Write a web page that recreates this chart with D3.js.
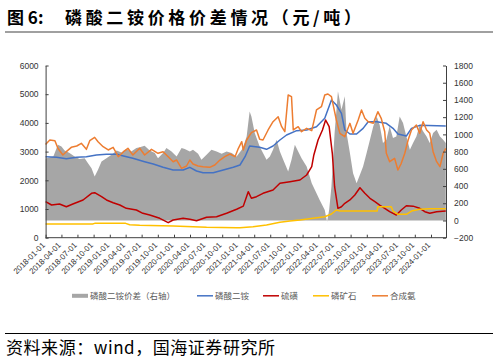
<!DOCTYPE html>
<html><head><meta charset="utf-8">
<script src="https://cdn.jsdelivr.net/npm/d3@7"></script>
<style>body{margin:0;background:#fff}svg{display:block}</style>
</head><body><svg id="c" width="498" height="362"></svg>
<script>
// ---------- data ----------
const titleLead = "图 6:";
const titleMain = "磷酸二铵价格价差情况（元/吨）";
const sourceText = "资料来源：wind，国海证券研究所";
const legendNames = ["磷酸二铵价差（右轴）", "磷酸二铵", "硫磺", "磷矿石", "合成氨"];
const leftTicks = [0, 1000, 2000, 3000, 4000, 5000, 6000];
const rightTicks = [-200, 0, 200, 400, 600, 800, 1000, 1200, 1400, 1600, 1800];
const xTickLabels = ["2018-01-01","2018-04-01","2018-07-01","2018-10-01","2019-01-01","2019-04-01","2019-07-01","2019-10-01",
  "2020-01-01","2020-04-01","2020-07-01","2020-10-01","2021-01-01","2021-04-01","2021-07-01","2021-10-01",
  "2022-01-01","2022-04-01","2022-07-01","2022-10-01","2023-01-01","2023-04-01","2023-07-01","2023-10-01","2024-01-01"];

// DAP price spread (right axis)
const spreadDates = ["2018-01-01","2018-01-07","2018-02-14","2018-03-12","2018-04-01","2018-04-19","2018-05-17","2018-06-15","2018-07-13",
  "2018-08-11","2018-08-30","2018-09-19","2018-10-07","2018-10-26","2018-11-15","2018-12-13","2019-01-11","2019-02-09","2019-03-08",
  "2019-04-05","2019-05-03","2019-06-01","2019-06-20","2019-07-18","2019-08-16","2019-09-14","2019-10-02","2019-10-31","2019-11-19",
  "2019-12-18","2020-01-16","2020-02-13","2020-03-02","2020-03-31","2020-04-18","2020-05-17","2020-06-05","2020-07-04","2020-08-01",
  "2020-08-30","2020-09-28","2020-10-26","2020-11-24","2020-12-22","2021-01-20","2021-01-29","2021-02-17","2021-03-06","2021-03-16",
  "2021-04-04","2021-05-02","2021-05-21","2021-06-10","2021-06-29","2021-07-17","2021-08-06","2021-08-25","2021-09-13","2021-10-11",
  "2021-10-30","2021-11-18","2021-12-07","2021-12-26","2022-01-24","2022-02-22","2022-03-21","2022-04-08","2022-05-07","2022-05-20",
  "2022-06-01","2022-06-14","2022-07-02","2022-07-21","2022-08-10","2022-08-29","2022-09-08","2022-09-27","2022-10-15","2022-11-04",
  "2022-11-23","2022-12-11","2022-12-31","2023-01-19","2023-02-07","2023-02-26","2023-03-15","2023-04-03","2023-04-22","2023-05-11",
  "2023-05-30","2023-06-18","2023-07-07","2023-07-26","2023-08-14","2023-09-03","2023-09-21","2023-10-10","2023-10-29","2023-11-17",
  "2023-12-07","2023-12-25","2024-01-13","2024-02-02","2024-02-21","2024-03-10","2024-03-25"];
const spreadValues = [720,724,743,880,860,813,783,743,713,
  724,666,608,510,588,685,724,763,813,790,
  829,801,841,850,868,813,783,724,783,841,
  801,743,841,829,801,821,774,705,763,821,
  801,774,801,783,743,821,860,976,1267,1209,
  1015,860,783,705,743,821,938,801,705,569,
  705,879,801,724,627,433,317,239,122,-14,
  122,394,1015,1500,1287,1442,1015,783,549,433,
  530,627,783,938,1093,1209,1112,899,938,1093,
  957,976,1209,1132,976,821,899,976,1112,1035,
  976,899,1015,1054,976,938,899];

// DAP price (left axis)
const dapDates = ["2018-01-01","2018-03-04","2018-04-29","2018-06-27","2018-08-21","2018-10-17","2018-12-13","2019-02-09","2019-03-20",
  "2019-05-12","2019-07-18","2019-09-05","2019-10-31","2019-12-27","2020-02-22","2020-03-31","2020-05-08","2020-06-14","2020-08-11",
  "2020-10-07","2020-12-03","2021-01-10","2021-02-08","2021-03-06","2021-05-02","2021-06-10","2021-07-17","2021-08-25","2021-10-02",
  "2021-11-28","2022-01-24","2022-03-21","2022-05-07","2022-06-14","2022-07-12","2022-08-10","2022-08-29","2022-09-27","2022-11-04",
  "2022-12-11","2023-01-09","2023-02-26","2023-04-22","2023-05-30","2023-06-27","2023-08-14","2023-09-12","2023-10-29","2024-03-25"];
const dapValues = [2822,2800,2753,2801,2822,2881,2906,2906,2847,
  2767,2648,2568,2452,2359,2359,2452,2324,2265,2265,
  2359,2452,2533,2822,3195,3149,3079,3195,3404,3578,
  3729,3752,3868,4160,4798,4624,4334,3752,3613,3613,
  3810,4042,4042,3984,3810,3613,3543,3810,3915,3892];

// sulfur (left axis)
const sulfurDates = ["2018-01-01","2018-02-04","2018-03-21","2018-04-29","2018-06-05","2018-08-02","2018-09-19","2018-10-07","2018-11-15",
  "2018-12-13","2019-01-20","2019-02-27","2019-04-05","2019-06-01","2019-07-08","2019-08-16","2019-10-12","2019-11-29","2019-12-27",
  "2020-02-22","2020-03-31","2020-05-08","2020-07-04","2020-08-30","2020-10-26","2020-12-22","2021-01-29","2021-02-26","2021-03-16",
  "2021-04-14","2021-05-21","2021-07-17","2021-08-25","2021-10-21","2021-12-17","2022-01-24","2022-02-22","2022-03-06","2022-03-30",
  "2022-04-24","2022-05-12","2022-06-01","2022-06-19","2022-07-02","2022-07-21","2022-08-10","2022-08-29","2022-09-27","2022-10-25",
  "2022-11-23","2022-12-21","2023-01-19","2023-02-16","2023-03-15","2023-04-13","2023-05-11","2023-06-18","2023-07-16","2023-08-14",
  "2023-09-21","2023-10-29","2023-11-27","2023-12-25","2024-02-02","2024-03-25"];
const sulfurValues = [1254,1139,1174,1080,1174,1314,1547,1568,1429,
  1314,1220,1139,1024,965,850,791,676,523,617,
  676,641,592,711,732,850,990,1100,1603,1373,
  1429,1547,1662,1895,1951,2010,2185,2474,2882,3404,
  3753,4101,3868,2941,1777,1024,1080,1199,1314,1488,
  1742,1547,1373,1254,1139,1024,906,791,965,1115,
  1100,1024,906,850,906,929];

// phosphate rock (left axis)
const rockDates = ["2018-01-01","2018-09-25","2018-10-07","2019-04-01","2019-04-24","2019-06-20","2019-12-27","2020-07-04","2020-12-22",
  "2021-01-10","2021-03-25","2021-06-10","2021-08-25","2021-10-21","2021-12-17","2022-03-01","2022-05-07","2022-06-14","2022-07-12",
  "2022-08-01","2023-03-01","2023-03-05","2023-05-20","2023-05-30","2023-06-27","2023-08-14","2023-09-12","2023-10-29","2023-12-25","2024-03-25"];
const rockValues = [480,480,500,500,450,430,410,362,350,
  350,383,442,536,582,617,675,732,825,965,
  930,930,1080,1080,930,815,815,930,988,1010,1010];

// synthetic ammonia (left axis)
const ammoniaDates = ["2018-01-01","2018-01-07","2018-01-25","2018-02-23","2018-03-12","2018-04-09","2018-04-29","2018-05-27","2018-06-27",
  "2018-07-23","2018-08-21","2018-09-09","2018-10-07","2018-10-26","2018-11-24","2018-12-23","2019-01-20","2019-02-18","2019-03-20",
  "2019-04-14","2019-05-12","2019-06-20","2019-07-18","2019-08-26","2019-10-02","2019-10-31","2019-11-29","2019-12-27","2020-01-16",
  "2020-02-13","2020-03-12","2020-03-31","2020-04-18","2020-05-17","2020-06-14","2020-07-22","2020-08-20","2020-09-18","2020-10-16",
  "2020-11-14","2020-12-13","2021-01-01","2021-01-20","2021-01-29","2021-02-17","2021-03-16","2021-04-14","2021-05-02","2021-05-21",
  "2021-06-19","2021-07-17","2021-08-15","2021-09-04","2021-09-22","2021-10-11","2021-10-30","2021-11-09","2021-12-07","2021-12-26",
  "2022-01-24","2022-02-22","2022-03-21","2022-04-18","2022-05-07","2022-05-25","2022-06-14","2022-07-12","2022-08-01","2022-08-29",
  "2022-09-27","2022-10-15","2022-11-13","2022-12-02","2022-12-21","2023-01-09","2023-02-07","2023-03-05","2023-03-24","2023-04-13",
  "2023-04-22","2023-05-11","2023-06-08","2023-06-27","2023-07-16","2023-08-05","2023-08-24","2023-09-12","2023-10-10","2023-10-29",
  "2023-11-17","2023-12-07","2023-12-25","2024-01-13","2024-02-02","2024-02-21","2024-03-10","2024-03-25"];
const ammoniaValues = [3250,3289,3404,3381,3115,2881,2997,3149,3195,
  3289,3079,3381,3497,3345,3171,3056,3149,2822,2997,
  3115,2881,3115,2881,3079,2940,2997,2822,2648,2707,
  2417,2498,2707,2568,2498,2474,2452,2533,2707,2822,
  2916,2822,3115,3345,3056,3404,3659,3753,3428,3404,
  3753,4042,4216,3868,3693,4972,4913,3753,3868,3693,
  3810,3729,4450,4564,4972,5007,4913,4101,3636,3519,
  3985,3636,4101,4450,4160,4042,3985,4391,4160,3693,
  2941,2648,2766,2359,2591,2941,3404,3753,3927,3636,
  4042,3753,3636,2997,2648,2474,2941,3115];

// ---------- chart ----------
const parse = d3.utcParse("%Y-%m-%d");
const svg = d3.select("#c");
svg.append("rect").attr("width",498).attr("height",362).attr("fill","#fff");

const X0 = 45.6, X1 = 446, YB = 237.7, YT = 65.5;
const x = d3.scaleUtc().domain([parse("2018-01-01"), parse("2024-04-01")]).range([X0, 447]);
const yL = d3.scaleLinear().domain([0, 6000]).range([YB, YT]);
const yR = d3.scaleLinear().domain([-200, 1800]).range([YB, YT]);

const zip = (ds, vs) => ds.map((d, i) => ({date: parse(d), v: vs[i]}));

// title
const title = svg.append("g").attr("font-family","'Noto Sans CJK SC','Noto Sans',sans-serif").attr("font-weight","bold").attr("font-size",17).attr("fill","#000");
title.append("text").attr("x",7).attr("y",24).text(titleLead);
title.append("text").attr("x",65).attr("y",24).attr("textLength",296).attr("lengthAdjust","spacing").text(titleMain);
svg.append("line").attr("x1",5).attr("x2",493).attr("y1",32).attr("y2",32).attr("stroke","#808080").attr("stroke-width",1.5);

// area
svg.append("path").datum(zip(spreadDates, spreadValues))
  .attr("fill","#a6a6a6")
  .attr("d", d3.area().x(d => x(d.date)).y0(yR(0)).y1(d => yR(d.v)));

const line = (ys) => d3.line().x(d => x(d.date)).y(d => ys(d.v));
const series = [
  {d: zip(dapDates, dapValues), c: "#4472c4"},
  {d: zip(sulfurDates, sulfurValues), c: "#c00000"},
  {d: zip(rockDates, rockValues), c: "#ffc000"},
  {d: zip(ammoniaDates, ammoniaValues), c: "#ed7d31"}
];
series.forEach(s => {
  svg.append("path").datum(s.d).attr("fill","none").attr("stroke", s.c).attr("stroke-width",1.5)
    .attr("stroke-linejoin","round").attr("d", line(yL));
});

// axes
const axisColor = "#404040";
const gl = svg.append("g").attr("transform",`translate(${X0},0)`)
  .call(d3.axisLeft(yL).tickValues(leftTicks).tickSize(-3).tickSizeOuter(0).tickPadding(7).tickFormat(d3.format("d")));
const gr = svg.append("g").attr("transform",`translate(${X1},0)`)
  .call(d3.axisRight(yR).tickValues(rightTicks).tickSize(-3).tickSizeOuter(0).tickPadding(8).tickFormat(d3.format("d")));
const xTicks = xTickLabels.map(parse);
const gx = svg.append("g").attr("transform",`translate(0,${YB})`)
  .call(d3.axisBottom(x).tickValues(xTicks).tickSize(-3).tickSizeOuter(0).tickFormat(""));
gx.select(".domain").attr("d", `M${X0},0H${X1}`);
[gl, gr, gx].forEach(g => {
  g.selectAll(".domain,line").attr("stroke", axisColor);
  g.selectAll("text").attr("font-family","'Liberation Sans',Arial,sans-serif").attr("font-size",8.5).attr("fill","#333");
});
svg.append("g").selectAll("text").data(xTicks).join("text")
  .attr("transform", d => `translate(${x(d) - 2},${YB + 6}) rotate(-45)`)
  .attr("text-anchor","end").attr("dy","0.35em")
  .attr("font-family","'Liberation Sans',Arial,sans-serif").attr("font-size",8).attr("fill","#333")
  .text((d, i) => xTickLabels[i]);

// legend
const lg = svg.append("g").attr("font-family","'Noto Sans CJK SC',sans-serif").attr("font-size",8.5).attr("fill","#595959");
const legendItems = [
  {x: 72, c: "#a6a6a6", rect: true},
  {x: 197, c: "#4472c4"},
  {x: 263, c: "#c00000"},
  {x: 313, c: "#ffc000"},
  {x: 372, c: "#ed7d31"}
];
legendItems.forEach((it, i) => {
  if (it.rect) lg.append("rect").attr("x", it.x).attr("y", 293.8).attr("width", 16).attr("height", 4).attr("fill", it.c);
  else lg.append("line").attr("x1", it.x).attr("x2", it.x + 16).attr("y1", 295.8).attr("y2", 295.8).attr("stroke", it.c).attr("stroke-width", 1.5);
  lg.append("text").attr("x", it.x + 18).attr("y", 299).text(legendNames[i]);
});

// footer
svg.append("line").attr("x1",5).attr("x2",493).attr("y1",333.5).attr("y2",333.5).attr("stroke","#000").attr("stroke-width",1);
svg.append("text").attr("x",6).attr("y",354).attr("font-family","'Noto Sans CJK SC',sans-serif").attr("font-size",17)
  .attr("fill","#000").attr("textLength",269).attr("lengthAdjust","spacing").text(sourceText);
</script></body></html>
